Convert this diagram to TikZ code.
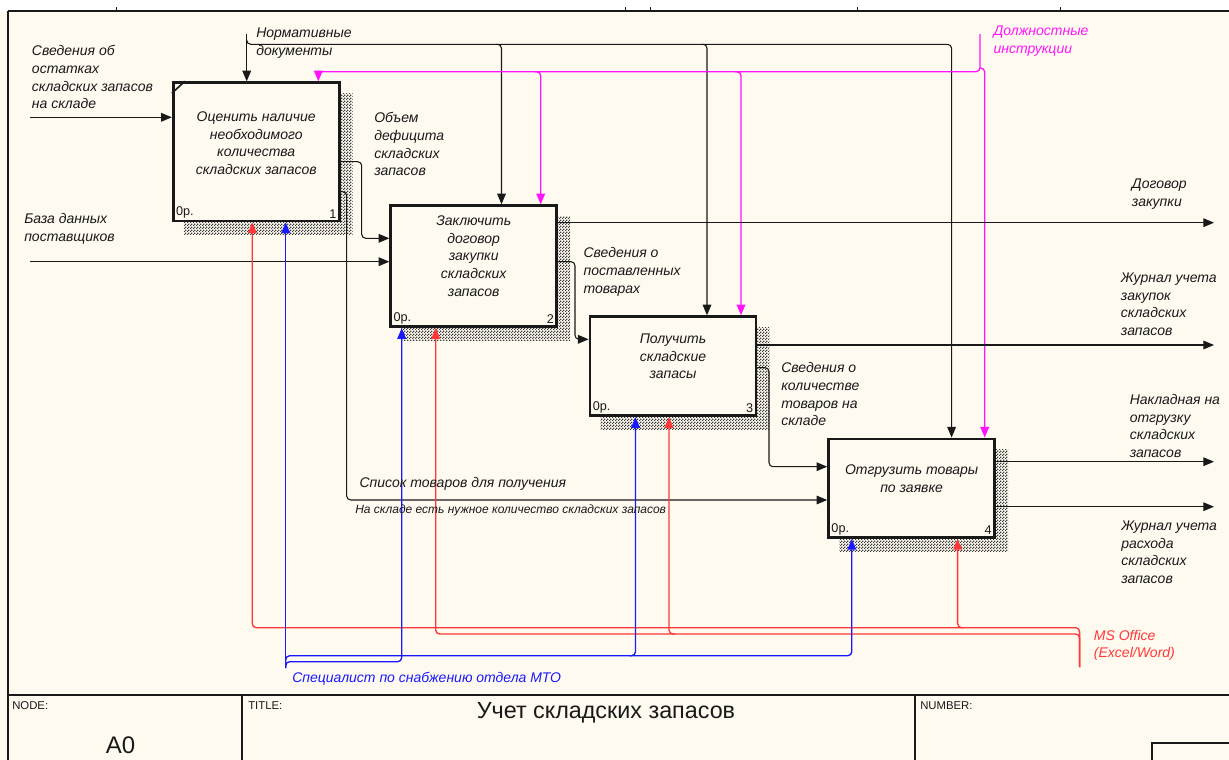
\documentclass[tikz,border=0pt]{standalone}
\usepackage{fontspec}
\setmainfont{Liberation Sans}
\usetikzlibrary{arrows.meta,patterns,backgrounds}

\definecolor{paper}{RGB}{255,250,240}
\definecolor{ink}{RGB}{25,25,25}
\definecolor{mtred}{RGB}{255,55,55}
\definecolor{mtblue}{RGB}{25,25,255}
\definecolor{mtmag}{RGB}{255,20,255}

\pgfdeclarepatternformonly{dither}{\pgfpointorigin}{\pgfpoint{2pt}{2pt}}{\pgfpoint{2pt}{2pt}}{%
  \pgfpathrectangle{\pgfpointorigin}{\pgfpoint{1pt}{1pt}}%
  \pgfpathrectangle{\pgfpoint{1pt}{1pt}}{\pgfpoint{1pt}{1pt}}%
  \pgfusepath{fill}}

\begin{document}
\begin{tikzpicture}
  [
  x=0.75pt,y=-0.75pt,color=ink,
  box/.style={rectangle,draw,line width=2.1pt,fill=paper,minimum width=124.5pt,inner sep=0pt},
  txt/.style={font=\fontsize{10.5}{13.3}\selectfont\itshape,align=center},
  num/.style={font=\fontsize{9.5}{10}\selectfont,inner sep=3pt},
  lbl/.style={font=\fontsize{10.5}{13.3}\selectfont\itshape,align=left,anchor=west,inner sep=0pt},
  small/.style={font=\fontsize{8.5}{10}\selectfont,anchor=west,inner sep=0pt},
  arr/.style={line width=0.8pt,-{Triangle[length=8pt,width=6.5pt]},rounded corners=3pt},
  tint/.style={line width=1pt},
  frm/.style={line width=1.4pt},
  shade/.style={pattern=dither,pattern color=ink!85}
  ]
  \useasboundingbox (0,0) rectangle (1229,760);

  \node (b1) at (256.2,151.85) [box,minimum height=103.7pt,
    label={[txt,yshift=6.6pt]center:{Оценить наличие\\необходимого\\количества\\складских запасов}},
    label={[num,anchor=south west]south west:0р.},
    label={[num,anchor=south east]south east:1}] {};
  \node (b2) at (473.7,266.2) [box,minimum height=90.75pt,
    label={[txt,yshift=7.6pt]center:{Заключить\\договор\\закупки\\складских\\запасов}},
    label={[num,anchor=south west]south west:0р.},
    label={[num,anchor=south east]south east:2}] {};
  \node (b3) at (673,366.2) [box,minimum height=74.25pt,
    label={[txt,yshift=7.3pt]center:{Получить\\складские\\запасы}},
    label={[num,anchor=south west]south west:0р.},
    label={[num,anchor=south east]south east:3}] {};
  \node (b4) at (911.6,488.3) [box,minimum height=74pt,
    label={[txt,yshift=7pt]center:{Отгрузить товары\\по заявке}},
    label={[num,anchor=south west]south west:0р.},
    label={[num,anchor=south east]south east:4}] {};
  \draw [line width=1.2pt] ([shift={(0,12)}]b1.north west) -- ([shift={(13,0)}]b1.north west);

  \coordinate (in1) at (30,117.3);
  \coordinate (in2) at (30,261.7);
  \coordinate (nd) at (246.7,34.3);
  \coordinate (k2) at (501.5,44.3);
  \coordinate (k3) at (707,44.3);
  \coordinate (k4) at (951.6,44.3);
  \coordinate (dj) at (980,34);
  \coordinate (m1) at (318.3,71.7);
  \coordinate (m2) at (540.7,71.7);
  \coordinate (m3) at (741,71.7);
  \coordinate (m4) at (984.7,71.7);
  \coordinate (o1) at (361.7,161.7);
  \coordinate (o1e) at (361.7,238.3);
  \coordinate (o2) at (346.7,191.7);
  \coordinate (o2e) at (346.7,500);
  \coordinate (o3) at (575,261.7);
  \coordinate (o3e) at (575,339.3);
  \coordinate (o4) at (769,367.7);
  \coordinate (o4e) at (769,466.7);
  \coordinate (out1) at (1214,222.7);
  \coordinate (out2) at (1214,345);
  \coordinate (out3) at (1214,461.7);
  \coordinate (out4) at (1214,506.7);
  \coordinate (ms) at (1079.6,667);
  \coordinate (r1) at (252.3,627.7);
  \coordinate (r2) at (435.7,634);
  \coordinate (r3) at (669,634);
  \coordinate (r4) at (957.6,627.7);
  \coordinate (sp) at (285.7,668);
  \coordinate (s2) at (401.7,661.7);
  \coordinate (s3) at (635.5,655.7);
  \coordinate (s4) at (851.8,655.7);

  \draw [arr] (in1) -- (in1 -| b1.west);
  \draw [arr] (in2) -- (in2 -| b2.west);
  \draw [arr] (nd) -- (nd |- b1.north);
  \draw [arr] ([shift={(0,5)}]nd) |- (k4) -- (k4 |- b4.north);
  \draw [arr] ([shift={(-6,0)}]k2) -| (k2 |- b2.north);
  \draw [arr] ([shift={(-6,0)}]k3) -| (k3 |- b3.north);

  \draw [arr,tint,mtmag] (dj) |- (m1) -- (m1 |- b1.north);
  \draw [arr,tint,mtmag] ([shift={(0,34)}]dj) -| (m4 |- b4.north);
  \draw [arr,tint,mtmag] ([shift={(-6,0)}]m2) -| (m2 |- b2.north);
  \draw [arr,tint,mtmag] ([shift={(-6,0)}]m3) -| (m3 |- b3.north);

  \draw [arr] (o1 -| b1.east) -- (o1) -- (o1e) -- (o1e -| b2.west);
  \draw [arr] (o2 -| b1.east) -- (o2) -- (o2e) -- (o2e -| b4.west);
  \draw [arr] (out1 -| b2.east) -- (out1);
  \draw [arr] (o3 -| b2.east) -- (o3) -- (o3e) -- (o3e -| b3.west);
  \draw [arr] (out2 -| b3.east) -- (out2);
  \draw [arr] (o4 -| b3.east) -- (o4) -- (o4e) -- (o4e -| b4.west);
  \draw [arr] (out3 -| b4.east) -- (out3);
  \draw [arr] (out4 -| b4.east) -- (out4);

  \draw [arr,tint,mtred] (ms) |- (r1) -- (r1 |- b1.south);
  \draw [arr,tint,mtred] (ms) |- (r2) -- (r2 |- b2.south);
  \draw [arr,tint,mtred] ([shift={(6,0)}]r3) -| (r3 |- b3.south);
  \draw [arr,tint,mtred] ([shift={(6,0)}]r4) -| (r4 |- b4.south);

  \draw [arr,tint,mtblue] (sp) -- (sp |- b1.south);
  \draw [arr,tint,mtblue] (sp) |- (s2) -- (s2 |- b2.south);
  \draw [arr,tint,mtblue] (sp) |- (s4) -- (s4 |- b4.south);
  \draw [arr,tint,mtblue] ([shift={(-6,0)}]s3) -| (s3 |- b3.south);

  \node (t1) at (31.7,77.3) [lbl] {Сведения об\\остатках\\складских запасов\\на складе};
  \node (t2) at (24,228.9) [lbl] {База данных\\поставщиков};
  \node (t3) at (256,43.3) [lbl] {Нормативные\\документы};
  \node (t4) at (993.3,41.2) [lbl,text=mtmag] {Должностные\\инструкции};
  \node (t5) at (374,144.1) [lbl] {Объем\\дефицита\\складских\\запасов};
  \node (t6) at (1131.7,194.3) [lbl] {Договор\\закупки};
  \node (t7) at (583.3,271.7) [lbl] {Сведения о\\поставленных\\товарах};
  \node (t8) at (1120.7,304.3) [lbl] {Журнал учета\\закупок\\складских\\запасов};
  \node (t9) at (781,394.2) [lbl] {Сведения о\\количестве\\товаров на\\складе};
  \node (t10) at (1129.5,426) [lbl] {Накладная на\\отгрузку\\складских\\запасов};
  \node (t11) at (1121,552.2) [lbl] {Журнал учета\\расхода\\складских\\запасов};
  \node (t12) at (359.3,484.3) [lbl] {Список товаров для получения};
  \node (t13) at (355,510.7) [lbl,font=\fontsize{9}{11}\selectfont\itshape] {На складе есть нужное количество складских запасов};
  \node (t14) at (292,679) [lbl,text=mtblue] {Специалист по снабжению отдела МТО};
  \node (t15) at (1093.7,645.5) [lbl,text=mtred] {MS Office\\(Excel/Word)};

  \draw [frm] (8,11) -- (1229,11);
  \draw [frm] (8,11) -- (8,760);
  \foreach \t in {116,625,650,857,1060}
    \draw [line width=0.6pt] (\t,7) -- (\t,11);
  \draw [frm] (8,694.7) -- (1229,694.7);
  \draw [frm] (242.4,694.7) -- (242.4,760);
  \draw [frm] (915,694.7) -- (915,760);
  \draw [frm] (1152,760) -- (1152,742.7) -- (1229,742.7);
  \node (nodelbl) at (12,705.7) [small] {NODE:};
  \node (titlelbl) at (248,705.7) [small] {TITLE:};
  \node (numlbl) at (920,705.7) [small] {NUMBER:};
  \node (nodeid) at (120.5,745) [font=\fontsize{18}{20}\selectfont] {A0};
  \node (title) at (606,713) [font=\fontsize{17.5}{20}\selectfont] {Учет складских запасов};

  \begin{scope}[on background layer]
    \fill [white] (0,0) rectangle (1229,760);
    \fill [paper] (0,11) rectangle (1229,760);
    \foreach \b in {b1,b2,b3,b4}
      \fill [shade] ([shift={(12,12)}]\b.north west) rectangle ([shift={(12,12)}]\b.south east);
  \end{scope}
\end{tikzpicture}
\end{document}
